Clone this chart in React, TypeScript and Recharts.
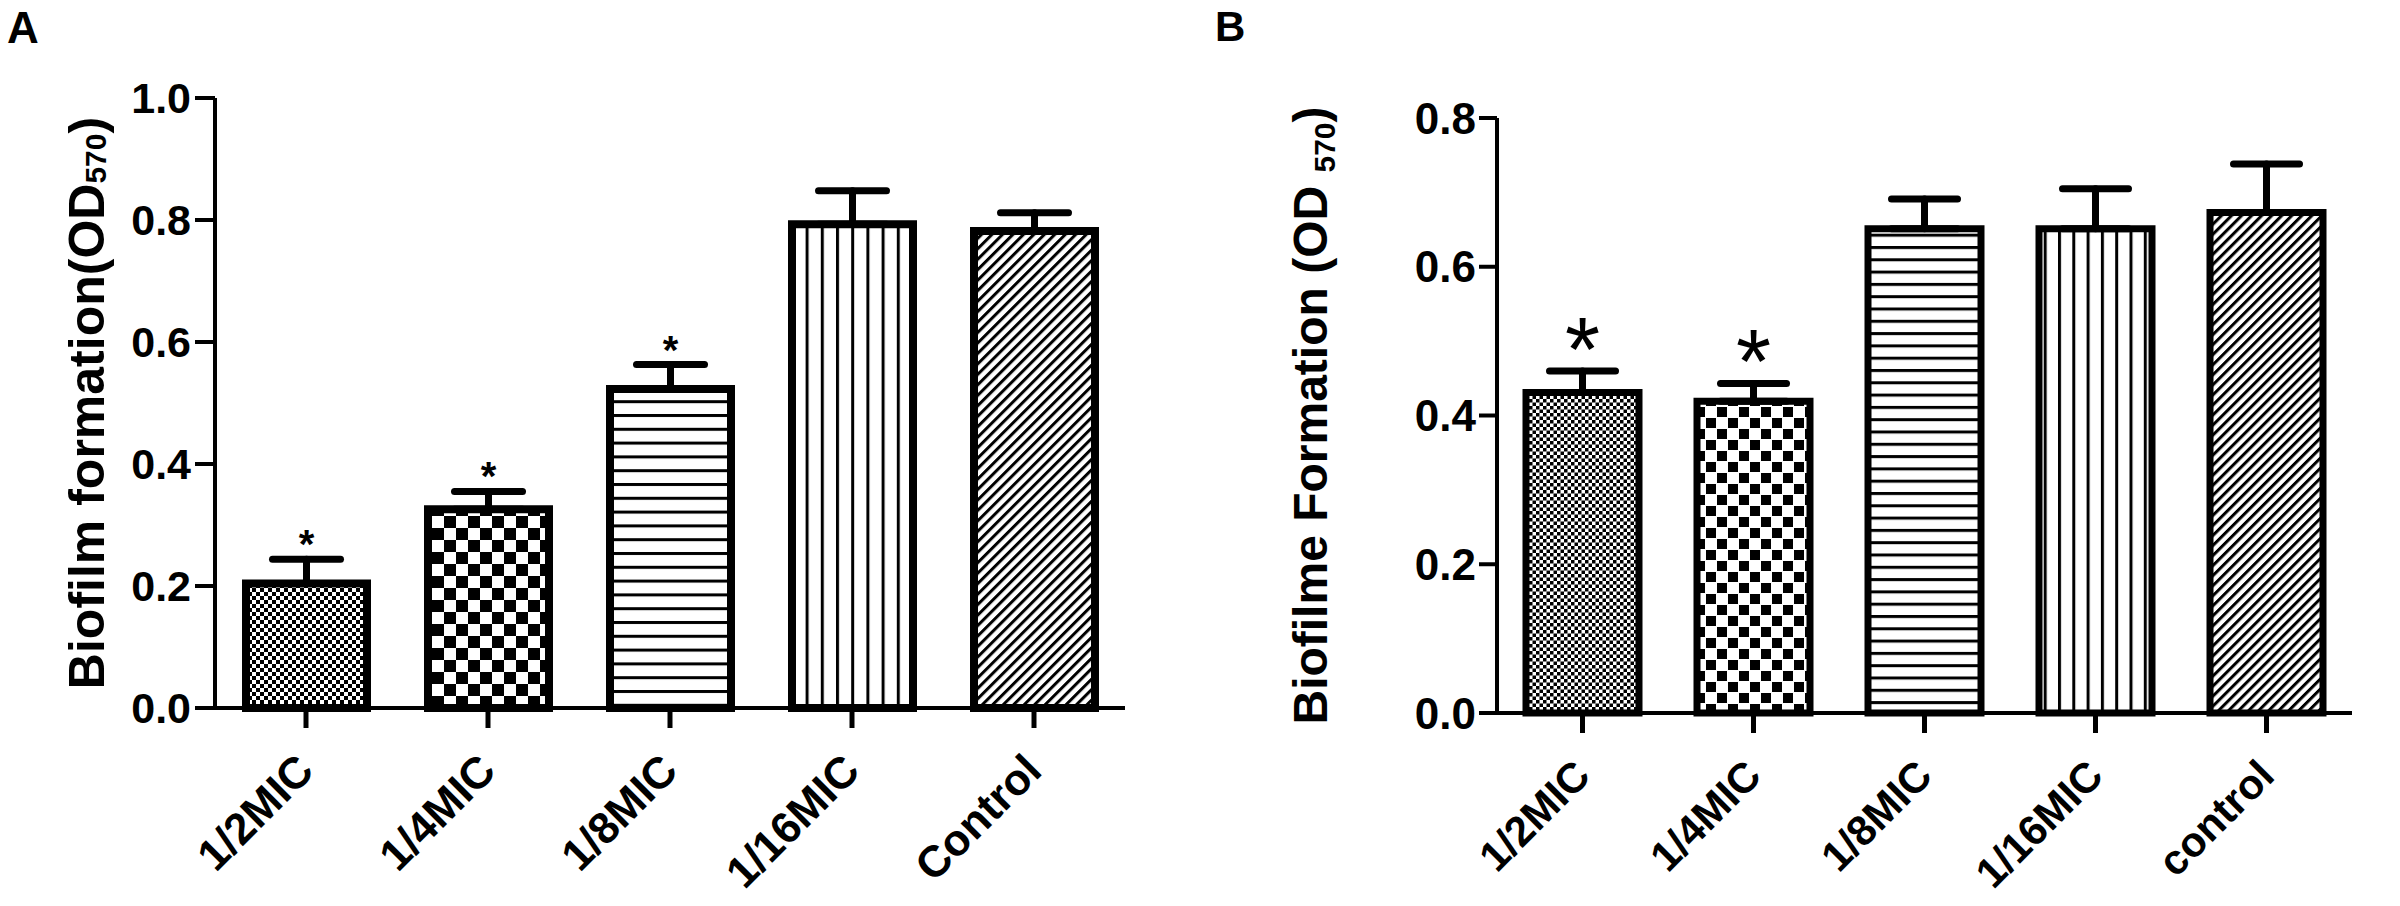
import * as React from "react"
import { Bar, BarChart, Cell, ErrorBar, LabelList, XAxis, YAxis } from "recharts"

const FONT = "'Liberation Sans', Arial, Helvetica, sans-serif"

// panel A
const categoriesA = ["1/2MIC", "1/4MIC", "1/8MIC", "1/16MIC", "Control"]
const valuesA = [0.204, 0.326, 0.523, 0.793, 0.782]
const errorsA = [0.04, 0.029, 0.04, 0.055, 0.03]
const sigA = [true, true, true, false, false]
const ticksA = [0, 0.2, 0.4, 0.6, 0.8, 1.0]

// panel B
const categoriesB = ["1/2MIC", "1/4MIC", "1/8MIC", "1/16MIC", "control"]
const valuesB = [0.431, 0.419, 0.651, 0.651, 0.673]
const errorsB = [0.029, 0.024, 0.04, 0.054, 0.065]
const sigB = [true, true, false, false, false]
const ticksB = [0, 0.2, 0.4, 0.6, 0.8]

const PATTERNS = ["fine", "checker", "hlines", "vlines", "diag"]

function buildData(cats: string[], vals: number[], errs: number[]) {
  return cats.map((name, i) => ({ name, value: vals[i], err: [0, errs[i]] }))
}

const dataA = buildData(categoriesA, valuesA, errorsA)
const dataB = buildData(categoriesB, valuesB, errorsB)

interface PatternSizes {
  fine: number
  checker: number
  checkerSq: number
  hgap: number
  vgap: number
  diag: number
  line: number
}

function PatternDefs({ prefix, s }: { prefix: string; s: PatternSizes }) {
  const f = s.fine / 2
  return (
    <defs>
      <pattern id={`${prefix}-fine`} width={s.fine} height={s.fine} patternUnits="userSpaceOnUse">
        <rect width={s.fine} height={s.fine} fill="#fff" />
        <rect x={0} y={0} width={f} height={f} fill="#000" />
        <rect x={f} y={f} width={f} height={f} fill="#000" />
      </pattern>
      <pattern id={`${prefix}-checker`} width={s.checker} height={s.checker} patternUnits="userSpaceOnUse">
        <rect width={s.checker} height={s.checker} fill="#fff" />
        <rect x={0} y={0} width={s.checkerSq} height={s.checkerSq} fill="#000" />
        <rect x={s.checker / 2} y={s.checker / 2} width={s.checkerSq} height={s.checkerSq} fill="#000" />
      </pattern>
      <pattern id={`${prefix}-hlines`} width={20} height={s.hgap} patternUnits="userSpaceOnUse">
        <rect width={20} height={s.hgap} fill="#fff" />
        <rect x={0} y={0} width={20} height={s.line} fill="#000" />
      </pattern>
      <pattern id={`${prefix}-vlines`} width={s.vgap} height={20} patternUnits="userSpaceOnUse">
        <rect width={s.vgap} height={20} fill="#fff" />
        <rect x={0} y={0} width={s.line} height={20} fill="#000" />
      </pattern>
      <pattern id={`${prefix}-diag`} width={s.diag} height={s.diag} patternUnits="userSpaceOnUse" patternTransform="rotate(45)">
        <rect width={s.diag} height={s.diag} fill="#fff" />
        <rect x={0} y={0} width={s.line} height={s.diag} fill="#000" />
      </pattern>
    </defs>
  )
}

function makeXTick(fontSize: number) {
  return (props: any) => {
    const { x, y, payload } = props
    const px = x + 10
    const py = y + 43
    return (
      <text
        x={px}
        y={py}
        transform={`rotate(-45 ${px} ${py})`}
        textAnchor="end"
        fontSize={fontSize}
        fontWeight="bold"
        fontFamily={FONT}
        fill="#000"
      >
        {payload.value}
      </text>
    )
  }
}

function makeStar(errs: number[], sig: boolean[], vals: number[], fontSize: number, weight: string, gap: number) {
  return (props: any) => {
    const { x, y, width, height, index } = props
    if (!sig[index]) return null
    const perUnit = height / vals[index]
    const capY = y - errs[index] * perUnit
    const cy = capY - gap
    return (
      <text
        x={x + width / 2}
        y={cy + fontSize * 0.575}
        textAnchor="middle"
        fontSize={fontSize}
        fontWeight={weight}
        fontFamily={FONT}
        fill="#000"
      >
        *
      </text>
    )
  }
}

function TitleA(props: any) {
  const vb = props.viewBox
  const cx = 104
  const cy = vb.y + vb.height / 2
  return (
    <text
      x={cx}
      y={cy}
      transform={`rotate(-90 ${cx} ${cy})`}
      textAnchor="middle"
      fontSize={50}
      fontWeight="bold"
      fontFamily={FONT}
      fill="#000"
    >
      Biofilm formation(OD
      <tspan fontSize={30} dy={2}>570</tspan>
      <tspan dy={-2}>)</tspan>
    </text>
  )
}

function TitleB(props: any) {
  const vb = props.viewBox
  const cx = 127
  const cy = vb.y + vb.height / 2
  return (
    <text
      x={cx}
      y={cy}
      transform={`rotate(-90 ${cx} ${cy})`}
      textAnchor="middle"
      fontSize={48}
      fontWeight="bold"
      fontFamily={FONT}
      fill="#000"
    >
      {"Biofilme Formation (OD "}
      <tspan fontSize={30} dy={8}>570</tspan>
      <tspan dy={-8}>)</tspan>
    </text>
  )
}

export default function App() {
  const sizesA: PatternSizes = { fine: 8, checker: 24, checkerSq: 12, hgap: 13.8, vgap: 15.2, diag: 7.4, line: 3 }
  const sizesB: PatternSizes = { fine: 7, checker: 22, checkerSq: 10, hgap: 12.3, vgap: 14.3, diag: 7.1, line: 3 }

  return (
    <div style={{ position: "absolute", left: 0, top: 0, width: 2400, height: 906, background: "#fff" }}>
      <div style={{ position: "absolute", left: 7, top: 6, fontFamily: FONT, fontWeight: "bold", fontSize: 44, lineHeight: "44px" }}>
        A
      </div>
      <div style={{ position: "absolute", left: 1215, top: 6, fontFamily: FONT, fontWeight: "bold", fontSize: 42, lineHeight: "42px" }}>
        B
      </div>

      <div style={{ position: "absolute", left: 0, top: 0 }}>
        <BarChart width={1200} height={906} data={dataA} margin={{ top: 98, right: 75, bottom: 0, left: 0 }}>
          <PatternDefs prefix="pa" s={sizesA} />
          <XAxis
            dataKey="name"
            interval={0}
            height={198}
            tickSize={20}
            axisLine={{ stroke: "#000", strokeWidth: 4 }}
            tickLine={{ stroke: "#000", strokeWidth: 5 }}
            tick={makeXTick(44)}
          />
          <YAxis
            width={215}
            domain={[0, 1]}
            ticks={ticksA}
            interval={0}
            tickSize={20}
            tickMargin={4}
            tickFormatter={(v: number) => v.toFixed(1)}
            axisLine={{ stroke: "#000", strokeWidth: 4 }}
            tickLine={{ stroke: "#000", strokeWidth: 4 }}
            tick={{ fill: "#000", fontSize: 43, fontWeight: "bold", fontFamily: FONT }}
            label={{ content: TitleA }}
          />
          <Bar dataKey="value" barSize={121} stroke="#000" strokeWidth={8} isAnimationActive={false}>
            {dataA.map((d, i) => (
              <Cell key={d.name} fill={`url(#pa-${PATTERNS[i]})`} />
            ))}
            <ErrorBar dataKey="err" width={34} stroke="#000" strokeWidth={7} strokeLinecap="round" direction="y" />
            <LabelList dataKey="value" content={makeStar(errorsA, sigA, valuesA, 40, "bold", 24)} />
          </Bar>
        </BarChart>
      </div>

      <div style={{ position: "absolute", left: 1200, top: 0 }}>
        <BarChart width={1200} height={906} data={dataB} margin={{ top: 118, right: 48, bottom: 0, left: 0 }}>
          <PatternDefs prefix="pb" s={sizesB} />
          <XAxis
            dataKey="name"
            interval={0}
            height={193}
            tickSize={20}
            axisLine={{ stroke: "#000", strokeWidth: 4 }}
            tickLine={{ stroke: "#000", strokeWidth: 5 }}
            tick={makeXTick(42)}
          />
          <YAxis
            width={297}
            domain={[0, 0.8]}
            ticks={ticksB}
            interval={0}
            tickSize={18}
            tickMargin={3}
            tickFormatter={(v: number) => v.toFixed(1)}
            axisLine={{ stroke: "#000", strokeWidth: 4 }}
            tickLine={{ stroke: "#000", strokeWidth: 4 }}
            tick={{ fill: "#000", fontSize: 44, fontWeight: "bold", fontFamily: FONT }}
            label={{ content: TitleB }}
          />
          <Bar dataKey="value" barSize={113} stroke="#000" strokeWidth={7} isAnimationActive={false}>
            {dataB.map((d, i) => (
              <Cell key={d.name} fill={`url(#pb-${PATTERNS[i]})`} />
            ))}
            <ErrorBar dataKey="err" width={33} stroke="#000" strokeWidth={7} strokeLinecap="round" direction="y" />
            <LabelList dataKey="value" content={makeStar(errorsB, sigB, valuesB, 90, "normal", 42)} />
          </Bar>
        </BarChart>
      </div>
    </div>
  )
}
